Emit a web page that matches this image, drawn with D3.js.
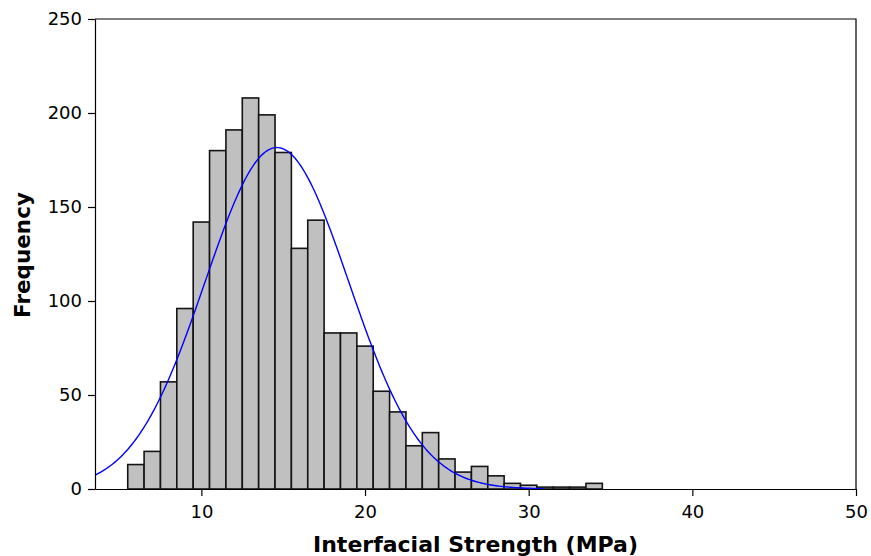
<!DOCTYPE html>
<html>
<head>
<meta charset="utf-8">
<script src="https://cdn.jsdelivr.net/npm/d3@7"></script>
<style>
  html, body { margin: 0; padding: 0; background: #fff; }
  svg { display: block; }
  text { font-family: "DejaVu Sans", Verdana, sans-serif; fill: #000; }
</style>
</head>
<body>
<svg id="chart" width="871" height="556"></svg>
<script>
// Histogram bins: centre of each 1 MPa bin and its count
const binCenters = [6, 7, 8, 9, 10, 11, 12, 13, 14, 15, 16, 17, 18, 19, 20,
                    21, 22, 23, 24, 25, 26, 27, 28, 29, 30, 31, 32, 33, 34];
const binCounts  = [13, 20, 57, 96, 142, 180, 191, 208, 199, 179, 128, 143, 83, 83, 76,
                    52, 41, 23, 30, 16, 9, 12, 7, 3, 2, 1, 1, 1, 3];
const binWidth = 1;

const xTicks = [10, 20, 30, 40, 50];
const yTicks = [0, 50, 100, 150, 200, 250];
const xDomain = [3.5, 50];
const yDomain = [0, 250];
const curveRange = [3.5, 30.9];

const xTitle = "Interfacial Strength (MPa)";
const yTitle = "Frequency";

const margin = { left: 95, right: 15, top: 19, bottom: 67 };
const W = 871, H = 556;
const iw = W - margin.left - margin.right;
const ih = H - margin.top - margin.bottom;

const svg = d3.select("#chart");
const g = svg.append("g").attr("transform", `translate(${margin.left},${margin.top})`);

const x = d3.scaleLinear().domain(xDomain).range([0, iw]);
const y = d3.scaleLinear().domain(yDomain).range([ih, 0]);

// Bars
g.selectAll("rect.bar")
  .data(binCenters.map((c, i) => ({ c, n: binCounts[i] })))
  .join("rect")
  .attr("class", "bar")
  .attr("x", d => x(d.c - binWidth / 2))
  .attr("width", d => x(d.c + binWidth / 2) - x(d.c - binWidth / 2))
  .attr("y", d => y(d.n))
  .attr("height", d => y(0) - y(d.n))
  .attr("fill", "#c0c0c0")
  .attr("stroke", "#141414")
  .attr("stroke-width", 1.6);

// Fitted normal curve from the binned sample's mean and standard deviation
const N = d3.sum(binCounts);
const mean = d3.sum(binCenters, (c, i) => c * binCounts[i]) / N;
const sd = Math.sqrt(d3.sum(binCenters, (c, i) => binCounts[i] * (c - mean) ** 2) / (N - 1));
const pdf = v => N * binWidth / (sd * Math.sqrt(2 * Math.PI)) * Math.exp(-0.5 * ((v - mean) / sd) ** 2);
const curvePts = d3.range(curveRange[0], curveRange[1] + 1e-9, 0.1).map(v => [v, pdf(v)]);

g.append("path")
  .datum(curvePts)
  .attr("fill", "none")
  .attr("stroke", "#0000ff")
  .attr("stroke-width", 1.4)
  .attr("d", d3.line().x(d => x(d[0])).y(d => y(d[1])));

// Frame (top and right edges)
g.append("path")
  .attr("d", `M0,0H${iw}V${ih}`)
  .attr("fill", "none")
  .attr("stroke", "#000")
  .attr("stroke-width", 1.2);

// Axes
const xAxis = g.append("g")
  .attr("transform", `translate(0,${ih})`)
  .call(d3.axisBottom(x).tickValues(xTicks).tickSize(7).tickPadding(9).tickSizeOuter(0));
const yAxis = g.append("g")
  .call(d3.axisLeft(y).tickValues(yTicks).tickSize(7).tickPadding(6).tickSizeOuter(0));

[xAxis, yAxis].forEach(a => {
  a.select(".domain").attr("stroke", "#000").attr("stroke-width", 1.2);
  a.selectAll(".tick line").attr("stroke", "#000").attr("stroke-width", 1.2);
  a.selectAll(".tick text")
    .attr("fill", "#000")
    .style("font-family", "'DejaVu Sans', Verdana, sans-serif")
    .style("font-size", "18px");
});

// Axis titles
svg.append("text")
  .attr("x", margin.left + iw / 2)
  .attr("y", 552)
  .attr("text-anchor", "middle")
  .style("font-size", "22px")
  .style("font-weight", "bold")
  .text(xTitle);

svg.append("text")
  .attr("transform", `translate(30,255) rotate(-90)`)
  .attr("text-anchor", "middle")
  .style("font-size", "21.5px")
  .style("font-weight", "bold")
  .text(yTitle);
</script>
</body>
</html>
